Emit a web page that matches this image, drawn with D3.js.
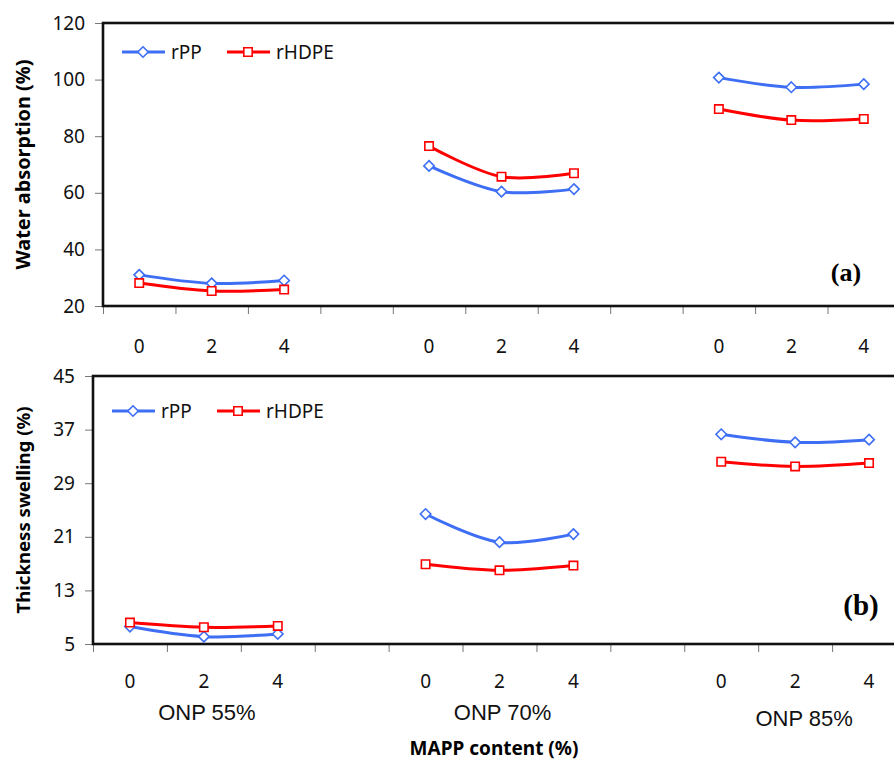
<!DOCTYPE html>
<html>
<head>
<meta charset="utf-8">
<script src="https://cdn.jsdelivr.net/npm/d3@7"></script>
<style>
  body { margin: 0; background: #fff; }
  svg { display: block; }
  .tick text { font-family: "Noto Sans", sans-serif; font-size: 19px; fill: #111; }
  .tick line { stroke: #777; }
</style>
</head>
<body>
<div id="container"></div>
<script>
// MAPP content levels repeated for each ONP group, blank slot between groups
const mappLabels = ["0", "2", "4", "", "0", "2", "4", "", "0", "2", "4"];
const groupLabels = ["ONP 55%", "ONP 70%", "ONP 85%"];
const seriesNames = ["rPP", "rHDPE"];

// (a) water absorption (%)
const waterRPP  = [31.0, 28.0, 29.0, null, 69.5, 60.4, 61.3, null, 100.7, 97.3, 98.4];
const waterHDPE = [28.1, 25.3, 25.8, null, 76.5, 65.7, 66.9, null, 89.6, 85.7, 86.1];
const waterTicks = [20, 40, 60, 80, 100, 120];

// (b) thickness swelling (%)
const swellRPP  = [7.6, 6.1, 6.5, null, 24.4, 20.2, 21.4, null, 36.3, 35.1, 35.5];
const swellHDPE = [8.2, 7.5, 7.7, null, 16.9, 16.0, 16.7, null, 32.2, 31.5, 32.0];
const swellTicks = [5, 13, 21, 29, 37, 45];

const W = 894, H = 762;
const blue = "#3d6ef4", red = "#ff0000";

const svg = d3.select("#container").append("svg")
    .attr("width", W)
    .attr("height", H);

function drawPanel(opt) {
    const g = svg.append("g");
    const n = mappLabels.length;

    const x = d3.scaleBand().domain(d3.range(n)).range([opt.left, opt.right]);
    const xEdge = d3.scaleLinear().domain([0, n]).range([opt.left, opt.right]);
    const y = d3.scaleLinear().domain(d3.extent(opt.ticks)).range([opt.bottom, opt.top]);

    // x ticks at category boundaries
    g.append("g")
        .attr("transform", "translate(0," + opt.bottom + ")")
        .call(d3.axisBottom(xEdge).tickValues(d3.range(n + 1)).tickSize(8).tickFormat(""))
        .call(a => a.select(".domain").remove());

    g.append("g")
        .attr("transform", "translate(" + opt.left + ",0)")
        .call(d3.axisLeft(y).tickValues(opt.ticks).tickSize(8).tickPadding(10))
        .call(a => a.select(".domain").remove());

    // category labels
    g.selectAll(".mapp")
        .data(mappLabels)
        .enter().append("text")
        .attr("x", (d, i) => x(i) + x.bandwidth() / 2)
        .attr("y", opt.bottom + opt.labelGap)
        .attr("text-anchor", "middle")
        .style("font-family", "Noto Sans, sans-serif")
        .style("font-size", "19px")
        .style("fill", "#111")
        .text(d => d);

    // plot frame
    g.append("rect")
        .attr("x", opt.left)
        .attr("y", opt.top)
        .attr("width", opt.right - opt.left)
        .attr("height", opt.bottom - opt.top)
        .attr("fill", "none")
        .attr("stroke", "#111")
        .attr("stroke-width", 2.6);

    // y title
    g.append("text")
        .attr("transform", "translate(" + 30 + "," + ((opt.top + opt.bottom) / 2) + ") rotate(-90)")
        .attr("text-anchor", "middle")
        .attr("textLength", opt.titleLen)
        .attr("lengthAdjust", "spacingAndGlyphs")
        .style("font-family", "Noto Sans, sans-serif")
        .style("font-weight", "bold")
        .style("font-size", opt.titleSize + "px")
        .text(opt.title);

    const line = d3.line()
        .defined(d => d != null)
        .x((d, i) => x(i) + x.bandwidth() / 2)
        .y(d => y(d))
        .curve(d3.curveCatmullRom.alpha(0.5));

    const series = [
        { name: seriesNames[0], values: opt.rpp, color: blue, shape: d3.symbolDiamond2, size: 70 },
        { name: seriesNames[1], values: opt.hdpe, color: red, shape: d3.symbolSquare2, size: 90 }
    ];

    series.forEach(s => {
        g.append("path")
            .attr("d", line(s.values))
            .attr("fill", "none")
            .attr("stroke", s.color)
            .attr("stroke-width", 3);

        s.values.forEach((v, i) => {
            if (v == null) return;
            g.append("path")
                .attr("d", d3.symbol().type(s.shape).size(s.size)())
                .attr("transform", "translate(" + (x(i) + x.bandwidth() / 2) + "," + y(v) + ")")
                .attr("fill", "#fff")
                .attr("stroke", s.color)
                .attr("stroke-width", 1.6);
        });
    });

    // legend
    series.forEach((s, k) => {
        const lx = opt.legendX + k * 105;
        g.append("line")
            .attr("x1", lx).attr("x2", lx + 43)
            .attr("y1", opt.legendY).attr("y2", opt.legendY)
            .attr("stroke", s.color)
            .attr("stroke-width", 3);
        g.append("path")
            .attr("d", d3.symbol().type(s.shape).size(s.size)())
            .attr("transform", "translate(" + (lx + 21) + "," + opt.legendY + ")")
            .attr("fill", "#fff")
            .attr("stroke", s.color)
            .attr("stroke-width", 1.6);
        g.append("text")
            .attr("x", lx + 49)
            .attr("y", opt.legendY + 7)
            .style("font-family", "Noto Sans, sans-serif")
            .style("font-size", "19px")
            .style("fill", "#111")
            .text(s.name);
    });

    // panel tag
    g.append("text")
        .attr("x", opt.tagX)
        .attr("y", opt.tagY)
        .attr("text-anchor", "middle")
        .style("font-family", "Liberation Serif, serif")
        .style("font-weight", "bold")
        .style("font-size", opt.tagSize + "px")
        .text(opt.tag);

    return x;
}

drawPanel({
    left: 103, right: 900, top: 23, bottom: 306,
    ticks: waterTicks, rpp: waterRPP, hdpe: waterHDPE,
    title: "Water absorption (%)", titleSize: 19, titleLen: 210,
    labelGap: 47, legendX: 122, legendY: 52,
    tag: "(a)", tagX: 846, tagY: 281, tagSize: 26
});

const xb = drawPanel({
    left: 93, right: 906, top: 376, bottom: 644,
    ticks: swellTicks, rpp: swellRPP, hdpe: swellHDPE,
    title: "Thickness swelling (%)", titleSize: 18, titleLen: 207,
    labelGap: 44, legendX: 112, legendY: 411,
    tag: "(b)", tagX: 861, tagY: 615, tagSize: 29
});

// ONP group labels under the middle category of each group
groupLabels.forEach((t, k) => {
    const c = xb(k * 4 + 1) + xb.bandwidth() / 2;
    svg.append("text")
        .attr("x", c + (k == 2 ? 9 : 3))
        .attr("y", k == 2 ? 726 : 720)
        .attr("text-anchor", "middle")
        .style("font-family", "Liberation Sans, Arial, sans-serif")
        .style("font-size", "22px")
        .style("fill", "#111")
        .text(t);
});

svg.append("text")
    .attr("x", 494)
    .attr("y", 755)
    .attr("text-anchor", "middle")
    .style("font-family", "Noto Sans, sans-serif")
    .style("font-weight", "bold")
    .style("font-size", "19px")
    .text("MAPP content (%)");
</script>
</body>
</html>
